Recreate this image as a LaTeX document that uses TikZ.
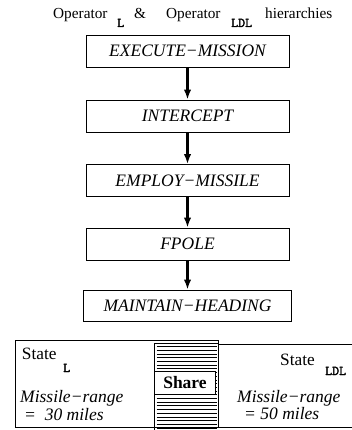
\documentclass[tikz,border=0pt]{standalone}
\usepackage{fontspec}
\setmainfont{Liberation Serif}
\newfontfamily\submono{Latin Modern Mono}[FakeBold=2.5]
\usetikzlibrary{arrows.meta}

\begin{document}
\begin{tikzpicture}[x=1pt,y=-1pt,
  opbox/.style={draw, line width=0.9pt, minimum width=203pt, minimum height=32pt,
    inner sep=0pt, font=\fontsize{17.5}{20}\selectfont\itshape},
  link/.style={line width=2.2pt, -{Latex[length=10pt,width=7.5pt]}},
  lbl/.style={anchor=base west, inner sep=0pt, font=\fontsize{17.3}{20}\selectfont},
  titlelbl/.style={anchor=base west, inner sep=0pt, font=\fontsize{15.3}{18}\selectfont},
  sublbl/.style={anchor=base west, inner sep=0pt, font=\submono\fontsize{13.5}{14}\selectfont},
  rangelbl/.style={anchor=base west, inner sep=0pt, font=\fontsize{17.5}{20}\selectfont\itshape},
  frame/.style={line width=0.9pt},
  hatchline/.style={line width=0.8pt}
]
\useasboundingbox (0,0) rectangle (352,430);

% heading
\node[titlelbl] (t1) at (53,18.3) {Operator};
\node[sublbl]   (t2) at (117,27) {L};
\node[titlelbl] (t3) at (134,18.3) {\&};
\node[titlelbl] (t4) at (166,18.3) {Operator};
\node[sublbl]   (t5) at (231,27) {LDL};
\node[titlelbl] (t6) at (265,18.3) {hierarchies};

% operator hierarchy
\node[opbox] (exec)  at (187.5,51)   {EXECUTE−MISSION};
\node[opbox] (inter) at (187.5,116)  {INTERCEPT};
\node[opbox] (emp)   at (187.5,180.5){EMPLOY−MISSILE};
\node[opbox] (fpole) at (187.5,244)  {FPOLE};
\node[opbox, minimum width=208pt, minimum height=31pt] (maint) at (187.5,305.5) {MAINTAIN−HEADING};

\draw[link] (exec)  -- (inter);
\draw[link] (inter) -- (emp);
\draw[link] (emp)   -- (fpole);
\draw[link] (fpole) -- (maint);

% right state box (runs off the right edge)
\draw[frame] (218,344) -- (352,344);
\draw[frame] (218,427) -- (352,427);

% hatched shared region
\foreach \y in {346.6,350.3,...,428.5}
  \draw[hatchline] (156.5,\y) -- (216.5,\y);
\draw[frame] (154,430) -- (154,343) -- (218,343);

% left state box
\draw[frame] (15,340) rectangle (218,427);

\node[draw, line width=0.9pt, fill=white, minimum width=61.5pt, minimum height=22.5pt,
  inner sep=0pt, font=\fontsize{17.5}{20}\selectfont\bfseries] (share) at (185,383) {Share};

% left state contents
\node[lbl]      (sl)  at (21.7,359.5) {State};
\node[sublbl]   (slsub) at (63,372) {L};
\node[rangelbl] (rl)  at (20,402) {Missile−range};
\node[rangelbl] (vl)  at (24,420) {=\ \ 30 miles};

% right state contents
\node[lbl]      (sr)  at (280,365) {State};
\node[sublbl]   (srsub) at (325,375) {LDL};
\node[rangelbl] (rr)  at (237,402) {Missile−range};
\node[rangelbl] (vr)  at (244,419) {= 50 miles};
\end{tikzpicture}
\end{document}
